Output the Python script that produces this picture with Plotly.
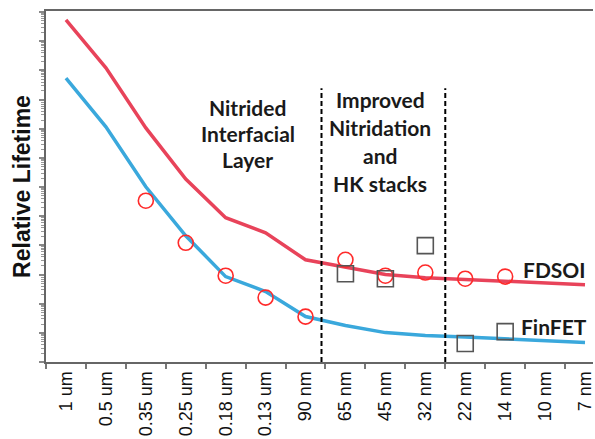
import plotly.graph_objects as go

categories = ["1 um", "0.5 um", "0.35 um", "0.25 um", "0.18 um", "0.13 um", "90 nm",
              "65 nm", "45 nm", "32 nm", "22 nm", "14 nm", "10 nm", "7 nm"]

fdsoi_line = [5.4e11, 1.23e10, 1.07e8, 1.9e6, 8.9e4, 2.7e4, 3.2e3,
              1.74e3, 1.0e3, 7.8e2, 6.8e2, 5.8e2, 5.1e2, 4.5e2]
finfet_line = [5.5e9, 1.17e8, 1.02e6, 2.14e4, 8.5e2, 2.6e2, 36.3,
               17.8, 10.2, 8.1, 7.2, 6.3, 5.5, 4.7]

circle_cats = ["0.35 um", "0.25 um", "0.18 um", "0.13 um", "90 nm",
               "65 nm", "45 nm", "32 nm", "22 nm", "14 nm"]
circle_vals = [3.4e5, 1.23e4, 9.1e2, 1.62e2, 36, 3.2e3, 9.1e2, 1.17e3, 7.2e2, 8.5e2]

square_cats = ["65 nm", "45 nm", "32 nm", "22 nm", "14 nm"]
square_vals = [1.07e3, 7.2e2, 9.8e3, 4.3, 11]

divider_positions = [6.4, 9.5]

# (lines, center x in category units, top line paper y, line step)
region_labels = [
    (["Nitrided", "Interfacial", "Layer"], 4.55, 0.724, 0.074),
    (["Improved", "Nitridation", "and", "HK stacks"], 7.87, 0.748, 0.080),
]

# series labels: (text, anchor category, log10 y, xshift px)
series_labels = [("FDSOI", "14 nm", 3.17, 16), ("FinFET", "14 nm", 1.22, 14)]

RED = "#E8435A"
BLUE = "#3AA8DC"

fig = go.Figure()
fig.add_trace(go.Scatter(x=categories, y=fdsoi_line, mode="lines",
                         line=dict(color=RED, width=3.5), showlegend=False))
fig.add_trace(go.Scatter(x=categories, y=finfet_line, mode="lines",
                         line=dict(color=BLUE, width=3.5), showlegend=False))
fig.add_trace(go.Scatter(x=circle_cats, y=circle_vals, mode="markers",
                         marker=dict(symbol="circle-open", size=15, color="#FF2A2A",
                                     line=dict(width=1.6, color="#FF2A2A")),
                         showlegend=False))
fig.add_trace(go.Scatter(x=square_cats, y=square_vals, mode="markers",
                         marker=dict(symbol="square-open", size=16, color="#555555",
                                     line=dict(width=1.6, color="#555555")),
                         showlegend=False))

for xp in divider_positions:
    fig.add_shape(type="line", xref="x", yref="paper", x0=xp, x1=xp, y0=0, y1=0.78,
                  line=dict(color="black", width=2, dash="5px,3px"))

ann_font = dict(family="Lato, Open Sans, sans-serif", size=21, color="#1a1a1a")
for lines, xc, top, step in region_labels:
    for k, t in enumerate(lines):
        fig.add_annotation(x=xc, y=top - k * step, xref="x", yref="paper", text="<b>%s</b>" % t,
                           showarrow=False, font=ann_font, xanchor="center", yanchor="middle")

for txt, cat, ly, xs in series_labels:
    fig.add_annotation(x=cat, y=ly, xref="x", yref="y", text="<b>%s</b>" % txt, showarrow=False,
                       font=ann_font, xanchor="left", yanchor="middle", xshift=xs)

fig.update_xaxes(type="category", categoryorder="array", categoryarray=categories,
                 range=[-0.5, 13.2], tickangle=-90, tickson="boundaries",
                 ticks="outside", ticklen=5, tickcolor="#777777", tickwidth=1.5,
                 showline=True, linecolor="#666666", linewidth=2, mirror=True,
                 showgrid=False, zeroline=False,
                 tickfont=dict(family="Liberation Sans, Arial", size=18, color="#111111"))
fig.update_yaxes(type="log", range=[0, 12.04], dtick=1, showticklabels=False,
                 ticks="outside", ticklen=5, tickcolor="#888888", tickwidth=1.5,
                 minor=dict(ticks="outside", ticklen=3, tickcolor="#999999", dtick="D1",
                            tickwidth=1, showgrid=False),
                 showline=True, linecolor="#666666", linewidth=2,
                 showgrid=False, zeroline=False,
                 title=dict(text="<b>Relative Lifetime</b>", standoff=2,
                            font=dict(family="Liberation Sans, Arial", size=23, color="#111111")))

fig.update_layout(width=595, height=439, margin=dict(l=46, r=0, t=11, b=77),
                  plot_bgcolor="white", paper_bgcolor="white")

fig.write_html("out.html")
